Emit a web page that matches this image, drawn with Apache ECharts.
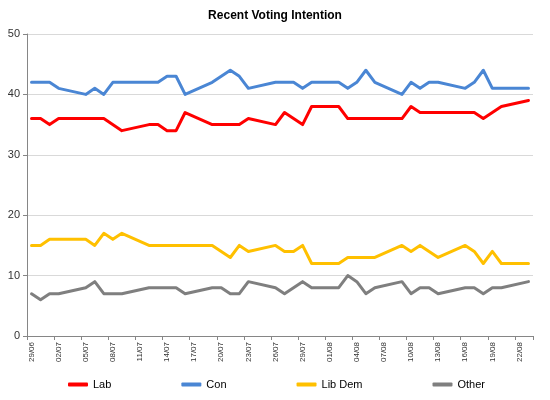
<!DOCTYPE html>
<html>
<head>
<meta charset="utf-8">
<script src="https://cdn.jsdelivr.net/npm/echarts@6/dist/echarts.min.js"></script>
<style>
html,body{margin:0;padding:0;background:#fff;}
#chart{width:550px;height:400px;}
</style>
</head>
<body>
<div id="chart"></div>
<script>
var dates = ["29/06","30/06","01/07","02/07","03/07","04/07","05/07","06/07","07/07","08/07",
  "09/07","10/07","11/07","12/07","13/07","14/07","15/07","16/07","17/07","18/07",
  "19/07","20/07","21/07","22/07","23/07","24/07","25/07","26/07","27/07","28/07",
  "29/07","30/07","31/07","01/08","02/08","03/08","04/08","05/08","06/08","07/08",
  "08/08","09/08","10/08","11/08","12/08","13/08","14/08","15/08","16/08","17/08",
  "18/08","19/08","20/08","21/08","22/08","23/08"];

var lab = [36,36,35,36,36,36,36,36,36,null,
  34,null,null,35,35,34,34,37,null,null,
  35,35,35,35,36,null,null,35,37,null,
  35,38,38,38,38,36,36,36,36,36,
  36,36,38,37,37,37,37,37,37,37,
  36,37,38,null,null,39];

var con = [42,42,42,41,null,null,40,41,40,42,
  42,42,42,42,42,43,43,40,null,null,
  42,null,44,43,41,null,null,42,42,42,
  41,42,42,42,42,41,42,44,42,null,
  null,40,42,41,42,42,null,null,41,42,
  44,41,41,41,41,41];

var libDem = [15,15,16,16,16,16,16,15,17,16,
  17,null,null,15,15,15,15,15,15,15,
  15,null,13,15,14,null,null,15,14,14,
  15,12,12,12,12,13,13,13,13,null,
  null,15,14,15,null,13,null,null,15,14,
  12,14,12,12,12,12];

var other = [7,6,7,7,null,null,8,9,7,7,
  7,null,null,8,8,8,8,7,null,null,
  8,8,7,7,9,null,null,8,7,null,
  9,8,8,8,8,10,9,7,8,null,
  null,9,7,8,8,7,null,null,8,8,
  7,8,8,null,null,9];

var seriesNames = ["Lab","Con","Lib Dem","Other"];
var seriesColors = ["#ff0000","#4a86d4","#ffc000","#7f7f7f"];
var seriesData = [lab, con, libDem, other];

var yMin = 0, yMax = 50, yStep = 10;

var chart = echarts.init(document.getElementById('chart'), null, {renderer:'canvas'});
var font = "'Liberation Sans', Arial, sans-serif";

var series = seriesNames.map(function(n, i){
  return {
    name: n,
    type: 'line',
    data: seriesData[i],
    connectNulls: true,
    showSymbol: false,
    symbol: 'none',
    smooth: false,
    lineStyle: {width: 3, color: seriesColors[i], cap: 'round', join: 'round'},
    itemStyle: {color: seriesColors[i]},
    animation: false
  };
});

chart.setOption({
  animation: false,
  backgroundColor: '#ffffff',
  title: {
    text: 'Recent Voting Intention',
    left: 'center',
    top: 5,
    textStyle: {fontFamily: font, fontSize: 12, fontWeight: 'bold', color: '#000'}
  },
  legend: {
    left: 63,
    top: 374,
    itemGap: 70,
    itemWidth: 20,
    itemHeight: 4,
    icon: 'roundRect',
    textStyle: {fontFamily: font, fontSize: 11, color: '#000'},
    data: seriesNames
  },
  grid: {left: 27, right: 17, top: 34, bottom: 64, containLabel: false},
  xAxis: {
    type: 'category',
    data: dates,
    boundaryGap: true,
    axisLine: {show: true, lineStyle: {color: '#868686', width: 1}},
    axisTick: {show: true, interval: 2, length: 4, lineStyle: {color: '#868686'}},
    axisLabel: {interval: 2, rotate: 90, fontSize: 8, margin: 6, color: '#333', fontFamily: font},
    splitLine: {show: false}
  },
  yAxis: {
    type: 'value',
    min: yMin, max: yMax, interval: yStep,
    axisLine: {show: true, lineStyle: {color: '#868686', width: 1}},
    axisTick: {show: true, length: 4, lineStyle: {color: '#868686'}},
    axisLabel: {fontSize: 11, margin: 7, color: '#333', fontFamily: font},
    splitLine: {show: true, lineStyle: {color: '#d9d9d9', width: 1}}
  },
  series: series
});
</script>
</body>
</html>
